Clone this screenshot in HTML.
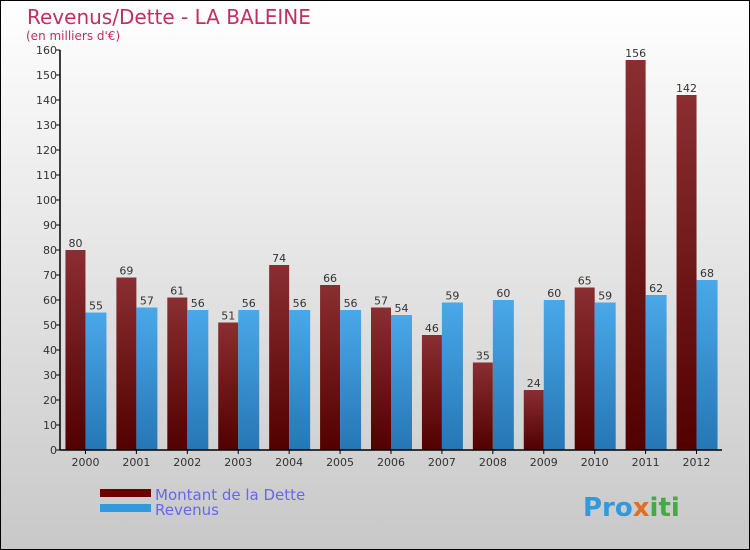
<!DOCTYPE html>
<html><head><meta charset="utf-8"><style>
body{margin:0;width:750px;height:550px;overflow:hidden}
svg{display:block;font-family:"DejaVu Sans","Liberation Sans",sans-serif}
</style></head><body>
<svg id="chart" width="750" height="550">
<defs>
<linearGradient id="bg" x1="0" y1="0" x2="0" y2="1"><stop offset="0" stop-color="#ffffff"/><stop offset="1" stop-color="#c8c8c8"/></linearGradient>
<linearGradient id="gd" x1="0" y1="0" x2="0" y2="1"><stop offset="0" stop-color="#8a2e32"/><stop offset="1" stop-color="#520000"/></linearGradient>
<linearGradient id="gr" x1="0" y1="0" x2="0" y2="1"><stop offset="0" stop-color="#4aa8e8"/><stop offset="1" stop-color="#2676b4"/></linearGradient>
</defs>
<rect x="0.5" y="0.5" width="749" height="549" fill="url(#bg)" stroke="#000"/>
<text x="27" y="24" font-size="20" fill="#c0305f">Revenus/Dette - LA BALEINE</text>
<text x="26" y="40" font-size="12" fill="#c0305f">(en milliers d'€)</text>
<g id="plot"></g>
<g>
<rect x="100" y="489" width="51" height="8" fill="#6a0000"/>
<text x="155" y="500" font-size="15" fill="#6666ee">Montant de la Dette</text>
<rect x="100" y="504" width="51" height="8" fill="#3399dd"/>
<text x="155" y="515" font-size="15" fill="#6666ee">Revenus</text>
</g>
<text x="583" y="516" font-size="26" font-weight="bold" fill="#3399dd">Pro<tspan fill="#e07020">x</tspan><tspan fill="#44aa44">iti</tspan></text>
</svg>
<script>
const categories=["2000","2001","2002","2003","2004","2005","2006","2007","2008","2009","2010","2011","2012"];
const dette=[80,69,61,51,74,66,57,46,35,24,65,156,142];
const revenus=[55,57,56,56,56,56,54,59,60,60,59,62,68];
const yTicks=[0,10,20,30,40,50,60,70,80,90,100,110,120,130,140,150,160];
const NS="http://www.w3.org/2000/svg";
const g=document.getElementById('plot');
const x0=60,x1=722,yb=450,yt=50,ymax=160;
const step=(x1-x0)/categories.length;
const y=v=>yb-(v/ymax)*(yb-yt);
const cx=i=>x0+step*(i+0.5);
function el(t,a){const e=document.createElementNS(NS,t);for(const k in a)e.setAttribute(k,a[k]);g.appendChild(e);return e;}
yTicks.forEach(v=>{
 const l=el('line',{x1:x0-4,x2:x0,y1:y(v),y2:y(v),stroke:'#000'});
 
 
 const t=el('text',{x:x0-3,y:y(v)+4,'font-size':11,'text-anchor':'end',fill:'#333'});
 t.textContent=v;
 
 
});
categories.forEach((c,i)=>{
 const c0=cx(i);
 const bd=el('rect',{x:c0-20,y:y(dette[i]),width:20,height:yb-y(dette[i]),fill:'url(#gd)'});
 
 
 const br=el('rect',{x:c0,y:y(revenus[i]),width:21,height:yb-y(revenus[i]),fill:'url(#gr)'});
 
 
 const ld=el('text',{x:c0-10,y:y(dette[i])-3,'font-size':11,'text-anchor':'middle',fill:'#333'});
 ld.textContent=dette[i];
 
 
 const lr=el('text',{x:c0+10.5,y:y(revenus[i])-3,'font-size':11,'text-anchor':'middle',fill:'#333'});
 lr.textContent=revenus[i];
 
 
 const tk=el('line',{x1:c0,x2:c0,y1:yb,y2:yb+4,stroke:'#000'});
 
 
 const tl=el('text',{x:c0,y:yb+16,'font-size':11,'text-anchor':'middle',fill:'#333'});
 tl.textContent=c;
 
 
});
const ya=el('line',{x1:x0,x2:x0,y1:yt,y2:yb,stroke:'#000','stroke-width':1.5});


const xa=el('line',{x1:x0,x2:x1,y1:yb,y2:yb,stroke:'#000','stroke-width':1.5});


</script>
</body></html>
